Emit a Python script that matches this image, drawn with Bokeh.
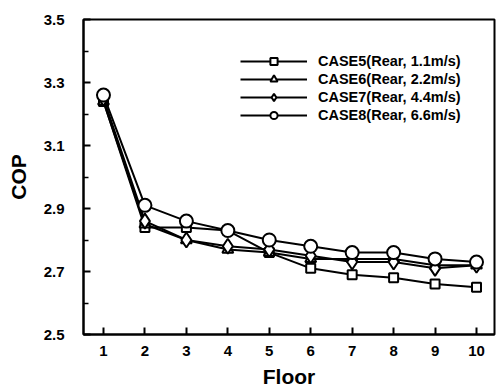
from bokeh.plotting import figure
from bokeh.models import FixedTicker, Range1d, Legend, LegendItem, CustomJSTickFormatter
from bokeh.embed import file_html
from bokeh.resources import INLINE

floors = [1, 2, 3, 4, 5, 6, 7, 8, 9, 10]
case5 = [3.24, 2.84, 2.84, 2.83, 2.76, 2.71, 2.69, 2.68, 2.66, 2.65]
case6 = [3.24, 2.85, 2.80, 2.77, 2.76, 2.74, 2.74, 2.74, 2.72, 2.72]
case7 = [3.25, 2.86, 2.80, 2.78, 2.77, 2.75, 2.73, 2.73, 2.71, 2.72]
case8 = [3.26, 2.91, 2.86, 2.83, 2.80, 2.78, 2.76, 2.76, 2.74, 2.73]
labels = ["CASE5(Rear, 1.1m/s)", "CASE6(Rear, 2.2m/s)",
          "CASE7(Rear, 4.4m/s)", "CASE8(Rear, 6.6m/s)"]
y_major = [2.5, 2.7, 2.9, 3.1, 3.3, 3.5]
y_minor = [2.6, 2.8, 3.0, 3.2, 3.4]

FONT = "Liberation Sans"

p = figure(width=496, height=390, output_backend="svg", toolbar_location=None,
           x_range=Range1d(0.518, 10.434), y_range=Range1d(2.5, 3.5),
           min_border_left=83, min_border_right=2, min_border_top=19,
           min_border_bottom=53)
p.grid.visible = False
p.outline_line_color = "black"
p.outline_line_width = 2
p.background_fill_color = "white"

p.xaxis.ticker = FixedTicker(ticks=floors)
p.yaxis.ticker = FixedTicker(ticks=y_major, minor_ticks=y_minor)
p.yaxis.formatter = CustomJSTickFormatter(code="return tick.toFixed(1);")

for ax in (p.xaxis[0], p.yaxis[0]):
    ax.axis_line_width = 2
    ax.axis_line_color = "black"
    ax.major_tick_in = 7
    ax.major_tick_out = 0
    ax.major_tick_line_width = 2
    ax.minor_tick_in = 5
    ax.minor_tick_out = 0
    ax.minor_tick_line_width = 1.5
    ax.major_label_text_font = FONT
    ax.major_label_text_font_style = "bold"
    ax.major_label_text_font_size = "15px"
    ax.major_label_text_color = "black"
    ax.axis_label_text_font = FONT
    ax.axis_label_text_font_style = "bold"
    ax.axis_label_text_font_size = "21px"
    ax.axis_label_text_color = "black"

p.xaxis.minor_tick_line_color = None
p.xaxis.axis_label = "Floor"
p.yaxis.axis_label = "COP"
p.xaxis.major_label_standoff = 11
p.xaxis.axis_label_standoff = 6
p.yaxis.major_label_standoff = 19
p.yaxis.axis_label_standoff = 11

series = [case5, case6, case7, case8]
markers = ["square", "triangle", "diamond", "circle"]
sizes = [9, 11, 15, 13]
items = []
for ys, mk, sz, lab in zip(series, markers, sizes, labels):
    ln = p.line(floors, ys, line_color="black", line_width=2)
    sc = p.scatter(floors, ys, marker=mk, size=sz, line_color="black",
                   line_width=2, fill_color="white")
    items.append(LegendItem(label=lab, renderers=[ln, sc]))

legend = Legend(items=items, location=(157, 210), padding=0, margin=0,
                spacing=0, glyph_width=67, glyph_height=18, label_height=18,
                label_standoff=11, border_line_color=None,
                background_fill_alpha=0,
                label_text_font=FONT, label_text_font_style="bold",
                label_text_font_size="14.5px", label_text_color="black")
p.add_layout(legend, "center")

open("out.html", "w").write(file_html(p, INLINE))
